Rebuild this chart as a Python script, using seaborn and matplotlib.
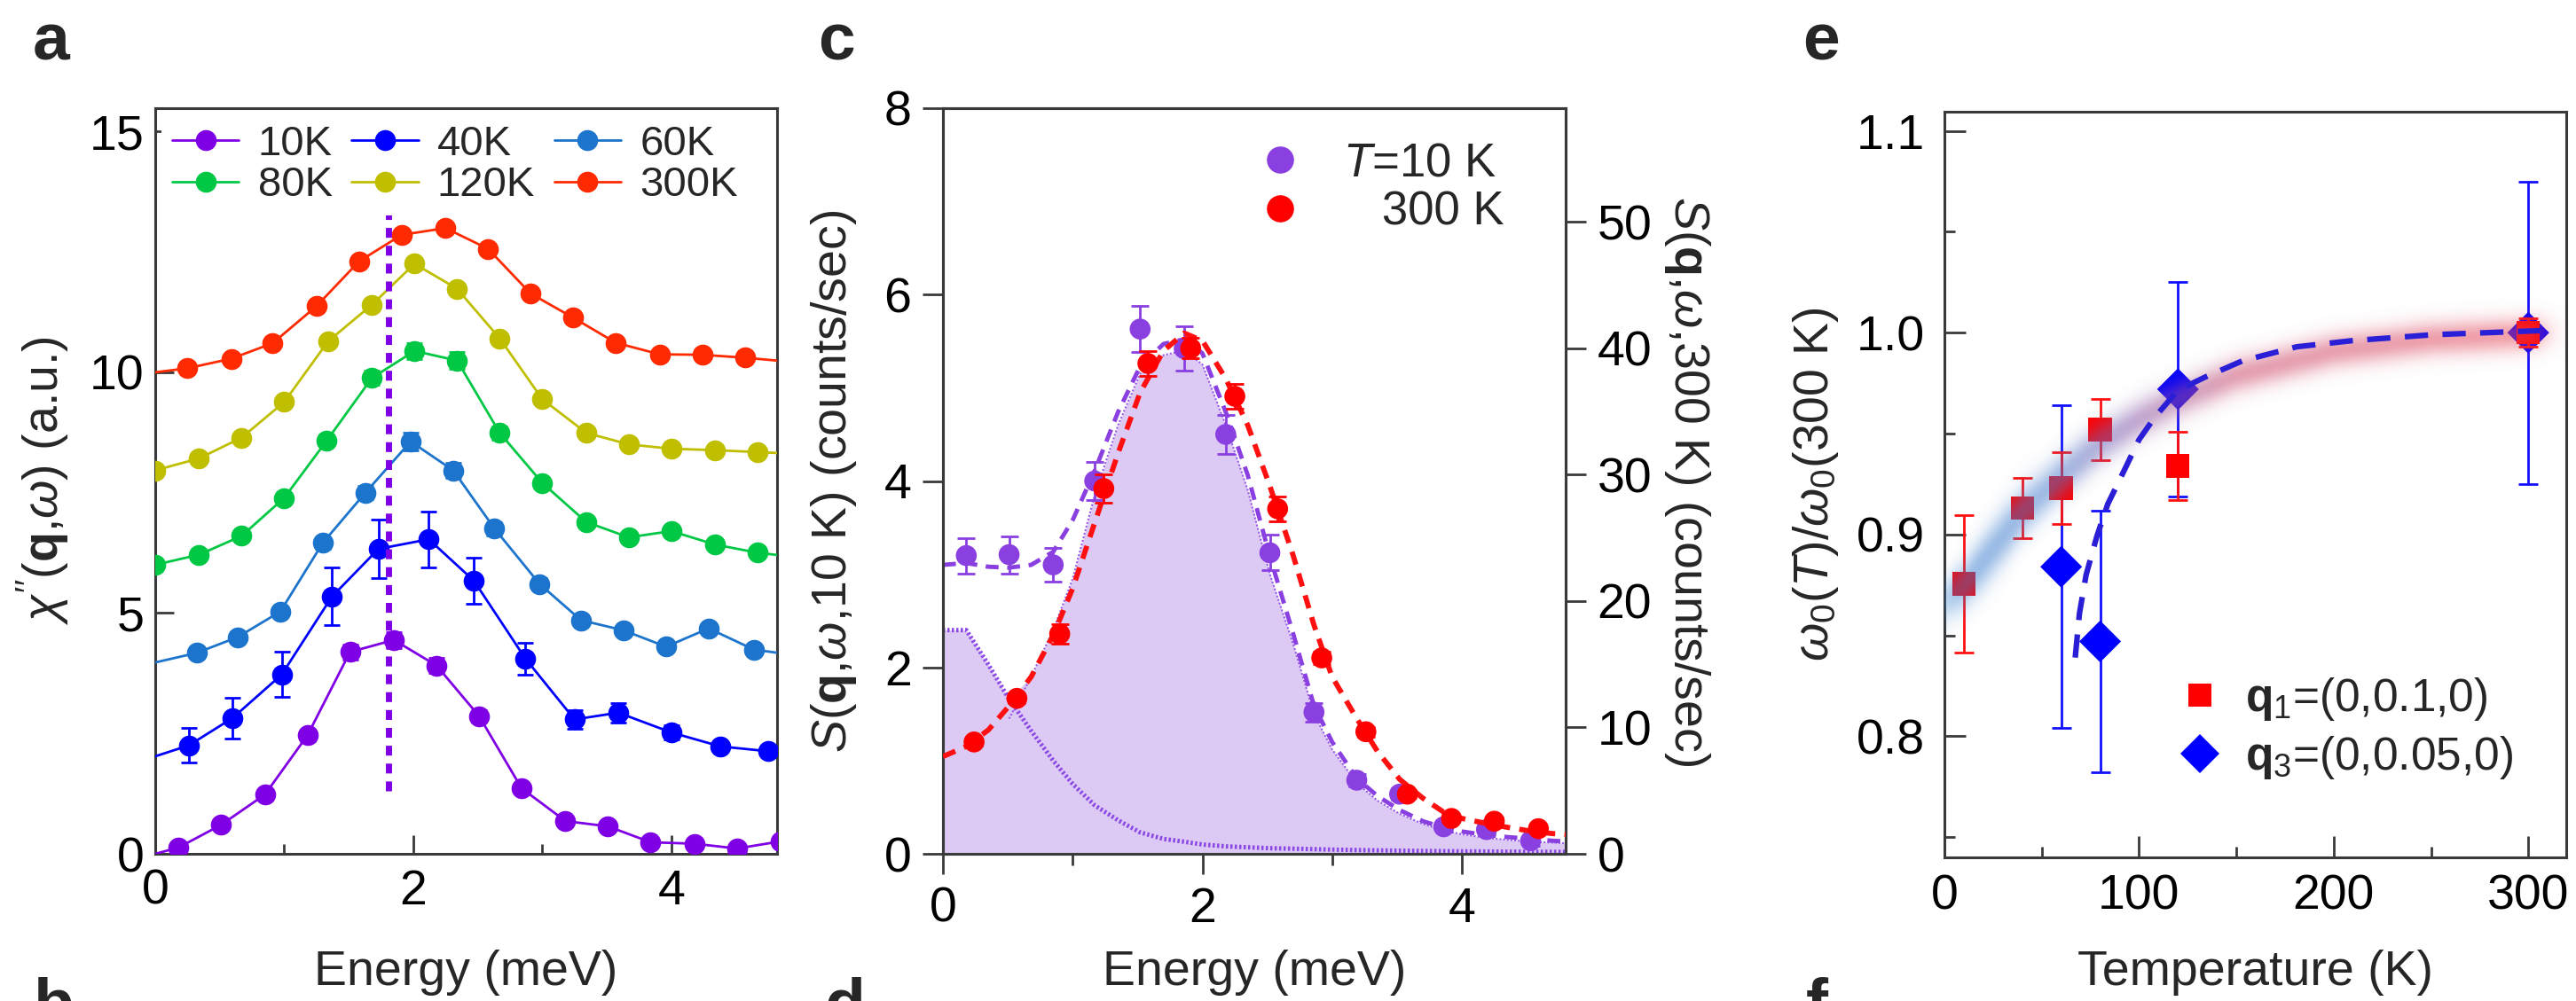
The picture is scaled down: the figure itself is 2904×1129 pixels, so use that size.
import numpy as np
import pandas as pd
import matplotlib
matplotlib.use("Agg")
import matplotlib.pyplot as plt
import seaborn as sns
from matplotlib.lines import Line2D
from matplotlib.colors import LinearSegmentedColormap
from matplotlib.ticker import FixedLocator

# ===================== Panel a data =====================
temps_a = ["10K", "40K", "60K", "80K", "120K", "300K"]
colors_a = ["#8000e6", "#0000ff", "#1c74cc", "#00c845", "#bfbf00", "#ff2a00"]

E_10K = [-0.15, 0.18, 0.51, 0.85, 1.18, 1.51, 1.85, 2.18, 2.51, 2.84, 3.18, 3.51, 3.84, 4.18, 4.51, 4.85]
chi_10K = [-0.11, 0.13, 0.60, 1.23, 2.46, 4.19, 4.44, 3.91, 2.86, 1.36, 0.68, 0.57, 0.24, 0.21, 0.11, 0.26]
err_10K = [0.0, 0.05, 0.05, 0.08, 0.12, 0.15, 0.17, 0.15, 0.12, 0.10, 0.07, 0.06, 0.05, 0.05, 0.05, 0.05]

E_40K = [-0.12, 0.26, 0.60, 0.98, 1.37, 1.73, 2.12, 2.47, 2.87, 3.25, 3.59, 4.00, 4.38, 4.75, 5.12]
chi_40K = [1.92, 2.25, 2.82, 3.72, 5.34, 6.33, 6.53, 5.67, 4.05, 2.79, 2.93, 2.52, 2.23, 2.13, 2.10]
err_40K = [0.0, 0.36, 0.42, 0.47, 0.60, 0.61, 0.58, 0.48, 0.33, 0.19, 0.20, 0.15, 0.10, 0.10, 0.0]

E_60K = [-0.20, 0.32, 0.64, 0.97, 1.30, 1.63, 1.98, 2.31, 2.63, 2.98, 3.30, 3.63, 3.96, 4.29, 4.64, 4.97]
chi_60K = [3.85, 4.17, 4.50, 5.03, 6.46, 7.50, 8.56, 7.96, 6.75, 5.60, 4.85, 4.64, 4.30, 4.68, 4.24, 4.12]
err_60K = [0.0, 0.06, 0.06, 0.08, 0.12, 0.14, 0.18, 0.16, 0.14, 0.12, 0.10, 0.08, 0.08, 0.08, 0.06, 0.0]

E_80K = [0.00, 0.34, 0.67, 1.00, 1.33, 1.68, 2.01, 2.34, 2.67, 3.00, 3.34, 3.67, 4.00, 4.34, 4.67, 5.00]
chi_80K = [6.00, 6.21, 6.60, 7.39, 8.58, 9.88, 10.44, 10.24, 8.74, 7.70, 6.89, 6.57, 6.70, 6.42, 6.25, 6.15]
err_80K = [0.05, 0.05, 0.06, 0.08, 0.12, 0.15, 0.17, 0.17, 0.14, 0.11, 0.08, 0.07, 0.07, 0.06, 0.05, 0.0]

E_120K = [0.00, 0.34, 0.67, 1.00, 1.34, 1.68, 2.01, 2.34, 2.67, 3.00, 3.34, 3.67, 4.00, 4.34, 4.67, 5.00]
chi_120K = [7.96, 8.21, 8.64, 9.38, 10.64, 11.40, 12.25, 11.73, 10.70, 9.44, 8.74, 8.50, 8.41, 8.38, 8.34, 8.30]
err_120K = [0.05, 0.05, 0.05, 0.06, 0.08, 0.10, 0.12, 0.10, 0.08, 0.07, 0.06, 0.05, 0.05, 0.05, 0.05, 0.0]

E_300K = [-0.20, 0.25, 0.59, 0.91, 1.25, 1.58, 1.91, 2.25, 2.58, 2.91, 3.24, 3.57, 3.91, 4.24, 4.57, 4.90]
chi_300K = [9.93, 10.08, 10.28, 10.60, 11.37, 12.30, 12.85, 12.99, 12.56, 11.63, 11.13, 10.61, 10.37, 10.36, 10.30, 10.22]
err_300K = [0.0, 0.05, 0.05, 0.05, 0.06, 0.07, 0.08, 0.08, 0.07, 0.06, 0.05, 0.05, 0.05, 0.05, 0.05, 0.0]

peak_E = [1.81, 1.81]
peak_chi = [1.3, 13.3]

# ===================== Panel c data =====================
E_c10 = [0.18, 0.51, 0.85, 1.17, 1.52, 1.86, 2.18, 2.52, 2.86, 3.19, 3.52, 3.86, 4.19, 4.53]
S_c10 = [3.20, 3.21, 3.10, 4.00, 5.63, 5.42, 4.50, 3.23, 1.52, 0.79, 0.64, 0.29, 0.26, 0.14]
err_c10 = [0.19, 0.20, 0.18, 0.20, 0.25, 0.24, 0.21, 0.19, 0.10, 0.07, 0.06, 0.05, 0.05, 0.05]

E_c300 = [0.24, 0.57, 0.90, 1.24, 1.58, 1.91, 2.25, 2.58, 2.92, 3.26, 3.58, 3.92, 4.25, 4.59]
S_c300 = [8.85, 12.3, 17.4, 28.9, 38.8, 40.0, 36.2, 27.3, 15.5, 9.66, 4.72, 2.80, 2.58, 1.99]
err_c300 = [0.3, 0.4, 0.8, 1.1, 1.0, 0.8, 1.0, 1.0, 0.5, 0.4, 0.3, 0.3, 0.3, 0.3]

E_fit = [0.00, 0.18, 0.35, 0.51, 0.68, 0.85, 1.00, 1.17, 1.35, 1.52, 1.70, 1.86, 2.00, 2.18, 2.35,
         2.52, 2.70, 2.86, 3.00, 3.19, 3.35, 3.52, 3.70, 3.86, 4.00, 4.19, 4.35, 4.53, 4.70, 4.85]
fit10_total = [3.10, 3.12, 3.08, 3.07, 3.10, 3.24, 3.58, 4.11, 4.74, 5.23, 5.47, 5.52, 5.37, 4.74, 4.06,
               3.19, 2.36, 1.59, 1.20, 0.81, 0.62, 0.47, 0.35, 0.28, 0.24, 0.20, 0.18, 0.16, 0.14, 0.13]
fit10_qe = [2.40, 2.40, 2.03, 1.66, 1.32, 1.00, 0.75, 0.52, 0.36, 0.23, 0.16, 0.13, 0.10, 0.08, 0.07,
            0.06, 0.055, 0.05, 0.045, 0.04, 0.037, 0.034, 0.031, 0.029, 0.027, 0.025, 0.023, 0.022, 0.021, 0.02]
fit10_dho = [0.70, 0.72, 1.05, 1.45, 1.90, 2.40, 2.95, 3.85, 4.60, 5.15, 5.35, 5.40, 5.25, 4.60, 3.90,
             3.00, 2.25, 1.50, 1.12, 0.76, 0.57, 0.43, 0.32, 0.25, 0.21, 0.17, 0.15, 0.13, 0.12, 0.11]
fit300 = [7.7, 8.5, 9.8, 11.7, 14.0, 17.3, 21.0, 26.2, 31.7, 36.5, 39.8, 41.2, 40.6, 37.6, 33.9,
          29.1, 23.6, 18.1, 14.0, 10.7, 8.1, 5.9, 4.4, 3.3, 2.8, 2.4, 2.1, 1.8, 1.6, 1.5]

# ===================== Panel e data =====================
T_q1 = [10, 40, 60, 80, 120, 300]
w_q1 = [0.8756, 0.913, 0.923, 0.952, 0.934, 1.000]
err_q1 = [0.034, 0.015, 0.018, 0.015, 0.017, 0.007]

T_q3 = [60, 80, 120, 300]
w_q3 = [0.884, 0.847, 0.972, 1.000]
err_q3 = [0.080, 0.065, 0.053, 0.075]

fit_T = [67.2, 69.4, 72.8, 78.3, 83.9, 92.0, 100, 108, 120, 134, 153, 181, 209, 251, 306]
fit_w = [0.839, 0.861, 0.880, 0.899, 0.915, 0.931, 0.947, 0.958, 0.9715, 0.978, 0.986, 0.993, 0.996, 0.999, 1.001]

band_T = [-8, 10, 25, 40, 60, 80, 100, 120, 150, 200, 250, 312]
band_w = [0.861, 0.875, 0.893, 0.911, 0.929, 0.945, 0.957, 0.967, 0.979, 0.991, 0.997, 1.000]

# ===================== Style =====================
sns.set_theme(style="ticks")
plt.rcParams["font.family"] = ["Liberation Sans", "DejaVu Sans"]
plt.rcParams["mathtext.fontset"] = "custom"
plt.rcParams["mathtext.rm"] = "Liberation Sans"
plt.rcParams["mathtext.it"] = "Liberation Sans:italic"
plt.rcParams["mathtext.bf"] = "Liberation Sans:bold"
plt.rcParams["mathtext.sf"] = "Liberation Sans"
plt.rcParams["axes.linewidth"] = 2.2
plt.rcParams["axes.edgecolor"] = "#3a3a3a"

TICK_FS = 40
LABEL_FS = 40
W, H = 2904, 1129

fig = plt.figure(figsize=(W / 100, H / 100), dpi=100)


def px_axes(l, t, r, b):
    return fig.add_axes([l / W, 1 - b / H, (r - l) / W, (b - t) / H])


def style_ticks(ax, direction, major_len, minor_len, pad_x, pad_y):
    ax.tick_params(axis="both", which="major", direction=direction, length=major_len, width=2.0,
                   colors="#3a3a3a", labelcolor="black", labelsize=TICK_FS)
    ax.tick_params(axis="both", which="minor", direction=direction, length=minor_len, width=2.0,
                   colors="#3a3a3a")
    ax.tick_params(axis="x", which="major", pad=pad_x)
    ax.tick_params(axis="y", which="major", pad=pad_y)


# ===================== Panel a =====================
axa = px_axes(175, 122, 876, 963)
series_a = [
    (E_10K, chi_10K, err_10K), (E_40K, chi_40K, err_40K), (E_60K, chi_60K, err_60K),
    (E_80K, chi_80K, err_80K), (E_120K, chi_120K, err_120K), (E_300K, chi_300K, err_300K),
]
frames = []
for name, (E, chi, err) in zip(temps_a, series_a):
    frames.append(pd.DataFrame({"E": E, "chi": chi, "err": err, "T": name}))
df_a = pd.concat(frames, ignore_index=True)
pal_a = dict(zip(temps_a, colors_a))

for name in temps_a:
    d = df_a[df_a["T"] == name]
    axa.errorbar(d["E"], d["chi"], yerr=d["err"], fmt="none", ecolor=pal_a[name],
                 elinewidth=2.0, capsize=6.5, capthick=2.0, zorder=2)

sns.lineplot(data=df_a, x="E", y="chi", hue="T", hue_order=temps_a, palette=pal_a,
             marker="o", markersize=17, markeredgewidth=0, linewidth=2.0,
             estimator=None, sort=False, legend=False, ax=axa, zorder=3)

axa.plot(peak_E, peak_chi, color="#8000e6", lw=5, dashes=(1.6, 1.3), zorder=4)

axa.set_xlim(0, 4.82)
axa.set_ylim(0, 15.48)
axa.xaxis.set_major_locator(FixedLocator([0, 2, 4]))
axa.xaxis.set_minor_locator(FixedLocator([1, 3]))
axa.yaxis.set_major_locator(FixedLocator([0, 5, 10, 15]))
style_ticks(axa, "in", 15, 8, 12, 9)
axa.set_xlabel("Energy (meV)", fontsize=LABEL_FS)
axa.set_ylabel(r"$\chi''(\mathbf{q}{,}\omega)$ (a.u.)", fontsize=LABEL_FS)
axa.xaxis.set_label_coords(0.5, -0.128)
axa.yaxis.set_label_coords(-0.1355, 0.5)

handles_a = [Line2D([], [], color=c, marker="o", markersize=17, markeredgewidth=0, lw=2.0)
             for c in colors_a]
order = [0, 3, 1, 4, 2, 5]
leg_a = axa.legend([handles_a[i] for i in order], [temps_a[i] for i in order], ncol=3,
                   loc="upper left", bbox_to_anchor=(0.0, 1.0), frameon=True, facecolor="white",
                   edgecolor="none", framealpha=1, fancybox=False, fontsize=34,
                   handlelength=1.6, handletextpad=0.45, columnspacing=0.45,
                   labelspacing=0.05, borderpad=0.25, borderaxespad=0.15)
leg_a.set_zorder(10)

# ===================== Panel c =====================
axc = px_axes(1063, 122, 1765, 963)
fill_top = np.maximum(np.array(fit10_qe), np.array(fit10_dho))
axc.fill_between(E_fit, 0, fill_top, color="#dccaf5", lw=0, zorder=1)
axc.plot(E_fit, fit10_qe, color="#8c48e4", lw=3.6, dashes=(0.5, 0.5), zorder=2)
axc.plot(E_fit[3:], fit10_dho[3:], color="#9a5ce8", lw=1.5, dashes=(1, 1), zorder=2)
axc.plot(E_fit, fit10_total, color="#8a3fe0", lw=3.5, dashes=(3, 2), zorder=3)
axc.errorbar(E_c10, S_c10, yerr=err_c10, fmt="none", ecolor="#8a3fe0", elinewidth=2.0,
             capsize=7, capthick=2.0, zorder=4)
sns.scatterplot(x=E_c10, y=S_c10, color="#8a3fe0", s=17 ** 2, edgecolor="none", ax=axc,
                zorder=5, legend=False)

axc.set_xlim(0, 4.8)
axc.set_ylim(0, 8)
axc.xaxis.set_major_locator(FixedLocator([0, 2, 4]))
axc.xaxis.set_minor_locator(FixedLocator([1, 3]))
axc.yaxis.set_major_locator(FixedLocator([0, 2, 4, 6, 8]))
style_ticks(axc, "out", 16.5, 9, 10, 9)
axc.set_xlabel("Energy (meV)", fontsize=LABEL_FS)
axc.set_ylabel(r"$S(\mathbf{q}{,}\omega{,}$10 K) (counts/sec)", fontsize=LABEL_FS)
axc.xaxis.set_label_coords(0.5, -0.128)
axc.yaxis.set_label_coords(-0.135, 0.5)

axc2 = axc.twinx()
axc2.plot(E_fit, fit300, color="#ff1010", lw=4.2, dashes=(2.6, 1.8), zorder=3)
axc2.errorbar(E_c300, S_c300, yerr=err_c300, fmt="none", ecolor="#ff0000", elinewidth=2.0,
              capsize=7, capthick=2.0, zorder=4)
sns.scatterplot(x=E_c300, y=S_c300, color="#ff0000", s=17 ** 2, edgecolor="none", ax=axc2,
                zorder=5, legend=False)
axc2.set_ylim(0, 59)
axc2.yaxis.set_major_locator(FixedLocator([0, 10, 20, 30, 40, 50]))
axc2.tick_params(axis="y", which="major", direction="out", length=16.5, width=2.0,
                 colors="#3a3a3a", labelcolor="black", labelsize=TICK_FS, pad=9)
axc2.set_ylabel(r"$S(\mathbf{q}{,}\omega{,}$300 K) (counts/sec)", fontsize=LABEL_FS,
                rotation=270, va="bottom")
axc2.yaxis.set_label_coords(1.155, 0.5)
for sp in axc2.spines.values():
    sp.set_linewidth(2.2)
    sp.set_color("#3a3a3a")

handles_c = [Line2D([], [], ls="none", marker="o", markersize=22, markeredgewidth=0, color="#8a3fe0"),
             Line2D([], [], ls="none", marker="o", markersize=22, markeredgewidth=0, color="#ff0000")]
leg_c = axc2.legend(handles_c, [r"$T$=10 K", "   300 K"], loc="upper left",
                    bbox_to_anchor=(0.511, 0.955), frameon=False, fontsize=38,
                    handlelength=0.8, handletextpad=0.95, labelspacing=0.08,
                    borderpad=0.0, borderaxespad=0.0)

# ===================== Panel e =====================
axe = px_axes(2192, 126, 2893, 967)
XLIM_E = (0, 319.5)
YLIM_E = (0.74, 1.1095)
axe.errorbar(T_q3, w_q3, yerr=err_q3, fmt="none", ecolor="#1010ff", elinewidth=2.0,
             capsize=8, capthick=2.0, zorder=2)
sns.scatterplot(x=T_q3, y=w_q3, marker="D", color="#0000ff", s=24 ** 2, edgecolor="none",
                ax=axe, zorder=3, legend=False)
axe.errorbar(T_q1, w_q1, yerr=err_q1, fmt="none", ecolor="#ff1010", elinewidth=2.0,
             capsize=8, capthick=2.0, zorder=4)
sns.scatterplot(x=T_q1, y=w_q1, marker="s", color="#ff0000", s=19 ** 2, edgecolor="none",
                ax=axe, zorder=5, legend=False)

# soft, blurred colour-gradient guide band (rendered as an RGBA image)
cmap_band = LinearSegmentedColormap.from_list(
    "band", [(0.0, "#2f7fd0"), (0.2, "#4a7ccc"), (0.33, "#8a5aa8"), (0.5, "#cc4a6c"), (1.0, "#e84858")])
ax_w_px, ax_h_px = 2893 - 2192, 967 - 126
Tg = np.linspace(XLIM_E[0], XLIM_E[1], ax_w_px)
wg = np.linspace(YLIM_E[0], YLIM_E[1], ax_h_px)
centre = np.interp(Tg, band_T, band_w)
px_T = ax_w_px / (XLIM_E[1] - XLIM_E[0])
px_w = ax_h_px / (YLIM_E[1] - YLIM_E[0])
slope = np.gradient(centre, Tg) * px_w / px_T
kern = np.ones(41) / 41
slope = np.convolve(np.pad(slope, 20, mode="edge"), kern, mode="valid")
dist = (wg[:, None] - centre[None, :]) * px_w / np.sqrt(1 + slope[None, :] ** 2)
fade = 1 / (1 + np.exp(-(Tg - band_T[0] - 6) / 5)) / (1 + np.exp((Tg - band_T[-1] + 4) / 4))
alpha = 0.52 * np.exp(-(dist / 19.0) ** 2) * fade[None, :]
rgba = cmap_band(np.clip((Tg - band_T[0]) / (band_T[-1] - band_T[0]), 0, 1))[None, :, :].repeat(ax_h_px, axis=0)
rgba[..., 3] = alpha
axe.imshow(rgba, extent=[Tg[0], Tg[-1], wg[0], wg[-1]], origin="lower", aspect="auto",
           interpolation="bilinear", zorder=6)

axe.plot(fit_T, fit_w, color="#2a1fd6", lw=4.5, dashes=(4.2, 2.6), zorder=7)

axe.set_xlim(*XLIM_E)
axe.set_ylim(*YLIM_E)
axe.xaxis.set_major_locator(FixedLocator([0, 100, 200, 300]))
axe.xaxis.set_minor_locator(FixedLocator([50, 150, 250]))
axe.yaxis.set_major_locator(FixedLocator([0.8, 0.9, 1.0, 1.1]))
axe.yaxis.set_minor_locator(FixedLocator([0.75, 0.85, 0.95, 1.05]))
axe.set_yticklabels(["0.8", "0.9", "1.0", "1.1"])
style_ticks(axe, "in", 17, 8.5, 13, 16)
axe.set_xlabel("Temperature (K)", fontsize=LABEL_FS)
axe.set_ylabel(r"$\omega_0(T)/\omega_0$(300 K)", fontsize=LABEL_FS)
axe.xaxis.set_label_coords(0.5, -0.124)
axe.yaxis.set_label_coords(-0.167, 0.5)

handles_e = [Line2D([], [], ls="none", marker="s", markersize=19, markeredgewidth=0, color="#ff0000"),
             Line2D([], [], ls="none", marker="D", markersize=22, markeredgewidth=0, color="#0000ff")]
axe.legend(handles_e, [r"$\mathbf{q}_1$=(0,0.1,0)", r"$\mathbf{q}_3$=(0,0.05,0)"],
           loc="upper left", bbox_to_anchor=(0.381, 0.244), frameon=False, fontsize=37,
           handlelength=0.8, handletextpad=0.6, labelspacing=0.25, borderpad=0.0,
           borderaxespad=0.0)

for ax in (axa, axc, axe):
    for sp in ax.spines.values():
        sp.set_linewidth(2.2)
        sp.set_color("#3a3a3a")
        sp.set_visible(True)

# ===================== Panel letters =====================
for letter, x, y in [("a", 37, 68), ("c", 922, 68), ("e", 2032, 68),
                     ("b", 37, 1156), ("d", 930, 1156), ("f", 2036, 1156)]:
    fig.text(x / W, 1 - y / H, letter, fontsize=54, fontweight="bold", va="baseline", ha="left")

fig.savefig("out.png", dpi=100)
